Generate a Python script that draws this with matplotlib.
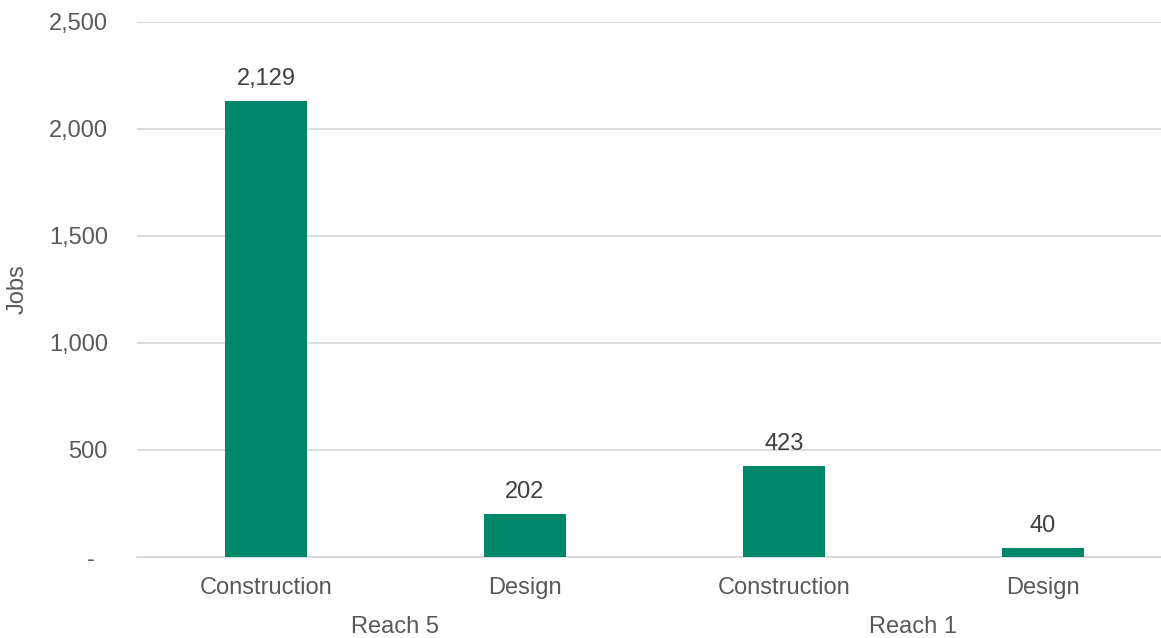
import matplotlib.pyplot as plt
from matplotlib.ticker import FuncFormatter
import matplotlib.transforms as mtransforms

categories = ["Construction", "Design", "Construction", "Design"]
groups = ["Reach 5", "Reach 1"]
jobs = [2129, 202, 423, 40]

plt.rcParams["font.family"] = ["Liberation Sans", "DejaVu Sans"]
plt.rcParams["font.size"] = 17

fig = plt.figure(figsize=(11.61, 6.38), dpi=100)
ax = fig.add_axes([137 / 1161, 1 - 557 / 638, 1 - 137 / 1161, (557 - 22) / 638])

x = list(range(len(categories)))
ax.bar(x, jobs, width=0.317, color="#00876A", zorder=3)

for xi, v in zip(x, jobs):
    ax.annotate(f"{v:,}", (xi, v), xytext=(0, 8), textcoords="offset points",
                ha="center", va="bottom", color="#404040", fontsize=17)

ax.set_xlim(-0.498, 3.456)
ax.set_ylim(0, 2500)
ax.set_yticks(range(0, 2501, 500))
ax.yaxis.set_major_formatter(FuncFormatter(lambda v, p: f"{int(v):,}" if v else "-  "))
ax.set_xticks(x)
ax.set_xticklabels(categories)

ax.grid(axis="y", color="#D9D9D9", linewidth=1.3, zorder=0)
for s in ["top", "right", "left"]:
    ax.spines[s].set_visible(False)
ax.spines["bottom"].set_color("#D9D9D9")
ax.spines["bottom"].set_linewidth(1.3)
ax.tick_params(axis="both", length=0, colors="#595959", labelsize=17)
ax.tick_params(axis="y", pad=21)
ax.tick_params(axis="x", pad=14.5)

ax.set_ylabel("Jobs", color="#595959", fontsize=17)
ax.yaxis.set_label_coords(-108 / 1024, 0.5)

# group labels under each pair of bars
trans = mtransforms.blended_transform_factory(ax.transData, ax.transAxes)
for i, g in enumerate(groups):
    ax.text(2 * i + 0.5, -70 / 535, g, transform=trans, ha="center", va="center",
            color="#595959", fontsize=17)

fig.savefig("out.png", dpi=100)
